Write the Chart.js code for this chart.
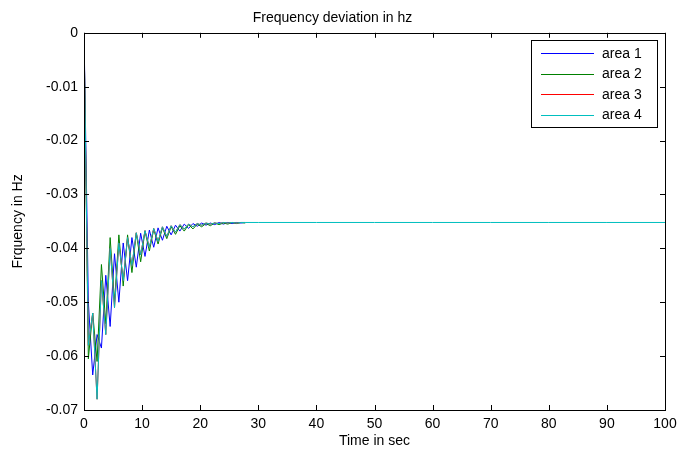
<!DOCTYPE html>
<html>
<head>
<meta charset="utf-8">
<script src="https://cdn.jsdelivr.net/npm/chart.js@4"></script>
<style>
  html, body { margin: 0; padding: 0; background: #fff; }
</style>
</head>
<body>
<canvas id="freqChart" width="691" height="450"></canvas>
<script>
// time axis (sec) - areas 1..3 stop at 27.75, area 4 runs to 100
const timeSec = [0, 0.75, 1.5, 2.25, 3, 3.75, 4.5, 5.25, 6, 6.75, 7.5, 8.25, 9, 9.75,
  10.5, 11.25, 12, 12.75, 13.5, 14.25, 15, 15.75, 16.5, 17.25, 18, 18.75, 19.5, 20.25,
  21, 21.75, 22.5, 23.25, 24, 24.75, 25.5, 26.25, 27, 27.75, 30, 40, 50, 60, 70, 80, 90, 100];

const area1 = [0, -0.050, -0.0635, -0.056, -0.0585, -0.045, -0.0545, -0.041, -0.050, -0.039,
  -0.046, -0.038, -0.0435, -0.0372, -0.0415, -0.0366, -0.0398, -0.0362, -0.0385, -0.0359,
  -0.0375, -0.0357, -0.0368, -0.0355, -0.0363, -0.0354, -0.0359, -0.0353, -0.0357, -0.0353,
  -0.0356, -0.0352, -0.0355, -0.0352, -0.0354, -0.0352, -0.0353, -0.0352];

const area2 = [0, -0.0605, -0.052, -0.061, -0.043, -0.054, -0.038, -0.050, -0.0375, -0.047,
  -0.0375, -0.0445, -0.0372, -0.0425, -0.0368, -0.0405, -0.0365, -0.0392, -0.0362, -0.0382,
  -0.036, -0.0374, -0.0358, -0.0368, -0.0356, -0.0364, -0.0355, -0.036, -0.0354, -0.0358,
  -0.0353, -0.0356, -0.0353, -0.0355, -0.0352, -0.0354, -0.0352, -0.0353];

const area3 = [0, -0.058, -0.052, -0.068, -0.046, -0.056, -0.040, -0.051, -0.039, -0.046,
  -0.038, -0.0432, -0.0371, -0.0412, -0.0367, -0.0398, -0.0363, -0.0387, -0.036, -0.0378,
  -0.0358, -0.037, -0.0356, -0.0364, -0.0355, -0.036, -0.0354, -0.0357, -0.0353, -0.0355,
  -0.0353, -0.0354, -0.0352, -0.0353, -0.0352, -0.0353, -0.0352, -0.0352];

const area4 = [0, -0.058, -0.052, -0.068, -0.046, -0.056, -0.040, -0.051, -0.039, -0.046,
  -0.038, -0.0432, -0.0371, -0.0412, -0.0367, -0.0398, -0.0363, -0.0387, -0.036, -0.0378,
  -0.0358, -0.037, -0.0356, -0.0364, -0.0355, -0.036, -0.0354, -0.0357, -0.0353, -0.0355,
  -0.0353, -0.0354, -0.0352, -0.0353, -0.0352, -0.0353, -0.0352, -0.0352,
  -0.0352, -0.0352, -0.0352, -0.0352, -0.0352, -0.0352, -0.0352, -0.0352];

const seriesNames = ["area 1", "area 2", "area 3", "area 4"];
const seriesColors = ["#0000ff", "#008000", "#ff0000", "#00bfbf"];
const xTicks = [0, 10, 20, 30, 40, 50, 60, 70, 80, 90, 100];
const yTicks = [0, -0.01, -0.02, -0.03, -0.04, -0.05, -0.06, -0.07];

const FONT = "Arial, 'Liberation Sans', Helvetica, sans-serif";

function toPoints(vals) {
  return vals.map((v, i) => ({ x: timeSec[i], y: v }));
}

// matlab-like box, inward ticks and legend
const matlabFrame = {
  id: "matlabFrame",
  afterDraw(chart) {
    const { ctx, chartArea: a, scales } = chart;
    ctx.save();
    ctx.strokeStyle = "#000";
    ctx.lineWidth = 1;
    ctx.strokeRect(Math.round(a.left) + 0.5, Math.round(a.top) + 0.5,
      Math.round(a.right - a.left), Math.round(a.bottom - a.top));
    ctx.beginPath();
    const len = 5;
    xTicks.forEach(t => {
      const px = Math.round(scales.x.getPixelForValue(t)) + 0.5;
      ctx.moveTo(px, a.bottom); ctx.lineTo(px, a.bottom - len);
      ctx.moveTo(px, a.top); ctx.lineTo(px, a.top + len);
    });
    yTicks.forEach(t => {
      const py = Math.round(scales.y.getPixelForValue(t)) + 0.5;
      ctx.moveTo(a.left, py); ctx.lineTo(a.left + len, py);
      ctx.moveTo(a.right, py); ctx.lineTo(a.right - len, py);
    });
    ctx.stroke();

    // legend box
    const lx = 531, ly = 40, lw = 126, lh = 87;
    ctx.fillStyle = "#fff";
    ctx.fillRect(lx, ly, lw, lh);
    ctx.strokeStyle = "#000";
    ctx.strokeRect(lx + 0.5, ly + 0.5, lw, lh);
    ctx.font = "14px " + FONT;
    ctx.textBaseline = "middle";
    seriesNames.forEach((name, i) => {
      const y = 53 + i * 20.5;
      ctx.strokeStyle = seriesColors[i];
      ctx.beginPath();
      ctx.moveTo(541, Math.round(y) + 0.5);
      ctx.lineTo(594, Math.round(y) + 0.5);
      ctx.stroke();
      ctx.fillStyle = "#000";
      ctx.fillText(name, 602, y + 1);
    });
    ctx.restore();
  }
};

const ctx = document.getElementById("freqChart").getContext("2d");

new Chart(ctx, {
  type: "line",
  data: {
    datasets: [
      { label: seriesNames[0], data: toPoints(area1), borderColor: seriesColors[0], order: 4 },
      { label: seriesNames[1], data: toPoints(area2), borderColor: seriesColors[1], order: 3 },
      { label: seriesNames[2], data: toPoints(area3), borderColor: seriesColors[2], order: 2 },
      { label: seriesNames[3], data: toPoints(area4), borderColor: seriesColors[3], order: 1 }
    ].map(d => Object.assign(d, { borderWidth: 1, pointRadius: 0, tension: 0, fill: false }))
  },
  options: {
    responsive: false,
    animation: false,
    layout: { padding: { top: 0, right: 26, left: 0, bottom: 0 } },
    plugins: {
      legend: { display: false },
      tooltip: { enabled: false },
      title: {
        display: true,
        text: "Frequency deviation in hz",
        color: "#000",
        font: { family: FONT, size: 14, weight: "normal" },
        padding: { top: 10, bottom: 6 }
      }
    },
    scales: {
      x: {
        type: "linear",
        min: 0, max: 100,
        grid: { display: false, drawTicks: false },
        border: { display: false },
        afterBuildTicks: s => { s.ticks = xTicks.map(v => ({ value: v })); },
        afterFit: s => { s.height = 40; },
        ticks: { color: "#000", padding: 6, maxRotation: 0, font: { family: FONT, size: 14 } },
        title: {
          display: true, text: "Time in sec", color: "#000",
          font: { family: FONT, size: 14 }, padding: { top: 0, bottom: 0 }
        }
      },
      y: {
        min: -0.07, max: 0,
        grid: { display: false, drawTicks: false },
        border: { display: false },
        afterBuildTicks: s => { s.ticks = yTicks.map(v => ({ value: v })); },
        afterFit: s => { s.width = 84; },
        ticks: {
          color: "#000", padding: 6, font: { family: FONT, size: 14 },
          callback: v => (Math.abs(v) < 1e-9 ? "0" : v.toFixed(2))
        },
        title: {
          display: true, text: "Frquency in Hz", color: "#000",
          font: { family: FONT, size: 14 }, padding: { top: 10, bottom: 0 }
        }
      }
    }
  },
  plugins: [matlabFrame]
});
</script>
</body>
</html>
